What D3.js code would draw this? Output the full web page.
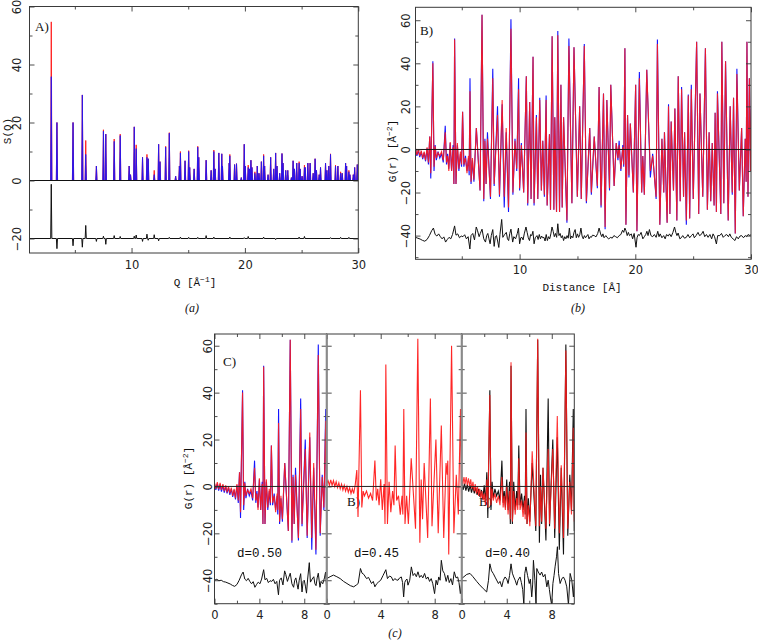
<!DOCTYPE html>
<html><head><meta charset="utf-8">
<script src="https://cdn.jsdelivr.net/npm/d3@7"></script>
<style>body{margin:0;background:#fff}</style>
</head><body>
<script>
// ================= DATA =================
// Panel A : S(Q) Bragg peaks (Q position, blue height, red height)
const aPeakQ = [2.92,3.42,4.84,5.66,5.96,6.90,7.52,7.73,8.47,9.00,
  9.79,9.91,10.24,10.41,10.97,11.36,11.47,12.00,12.39,12.51,
  13.01,13.33,13.89,14.22,14.31,14.72,15.04,15.13,15.52,15.84,
  15.93,16.58,17.02,17.26,17.37,17.70,17.96,18.02,18.61,18.67,
  19.09,19.26,19.68,19.94,20.03,20.29,20.41,20.53,20.62,20.88,
  21.09,21.24,21.45,21.65,21.74,22.04,22.27,22.54,22.71,22.83,
  23.07,23.27,23.36,23.60,23.78,24.10,24.25,24.37,24.57,24.78,
  24.87,25.04,25.25,25.31,25.55,25.75,26.02,26.19,26.31,26.55,
  26.67,27.11,27.23,27.40,27.55,27.99,28.20,28.44,28.58,28.88,
  28.97,29.17,29.26,29.56,29.68,29.91];
const aBlueS = [35.8,20,20,29.5,9,5,17,16,13.5,15.5,
  5,2,18.5,11,8,8,7.5,2,12.5,6.5,
  11.5,16.3,1.5,5,9.5,6.8,10,4.5,4,11.5,
  8,7,3.5,10,4,9.5,9.2,5,6,8.5,
  5.5,5.8,1,12.5,5,4.5,4,7,4.5,2.5,
  5,2.5,6.5,8.5,5,2,8,4,9.5,5,
  2.5,9.3,6,3.5,3.5,1,6.8,4,6,6,
  4,1.5,4.5,4.5,6,6,2.5,7.5,3.5,2,
  4.5,6,3.5,5,9,5,5,2.5,2.5,6,
  5,3,2,2,4.5,5.5];
const aRedS = [54.7,20,20,29.5,13.8,5,17.5,16,14.3,16,
  5,2,18.5,12.3,8,9,7.5,3.5,12.5,6.5,
  11.8,16.5,1.5,5,10,6.8,10.3,4.5,4,11.8,
  8,7,3.5,10.5,4,9.5,9.2,5,6,9,
  5.5,5.8,1,12.5,5,5.3,4,7,4.5,3,
  5,2.5,6.5,9,5,2,8,4,9.5,5,
  2.5,9.3,6,3.5,3.5,1,6.8,4,6,6.5,
  4,1.5,5.3,4.5,6,6,2.5,7.5,3.5,2,
  4.5,6,3.5,5,9.2,5.3,5,3,2.5,6,
  5,3.5,2,2,4.5,5.5];
// Panel A difference curve (deviation from the -20 offset line)
const aDiffQ = [2.92,3.42,4.84,5.66,5.96,6.90,7.52,7.73,8.47,9.00,
  10.24,10.41,10.97,11.36,11.47,12.00,12.39,13.33,14.31,15.04,
  15.84,16.58,17.26,18.67,19.94,20.29,21.65,22.71,24.78,25.25,
  27.55,28.44,29.17];
const aDiffS = [18.7,-3.5,-2.5,-3,4.5,-1,0.8,-2,1,0.7,
  0.8,1.2,-1,1.5,-0.6,1.3,-0.8,0.4,0.5,0.4,
  0.4,1,0.5,0.5,0.3,0.7,0.5,-0.4,0.5,0.7,
  0.3,0.4,0.4];
const aOffset = -20;

// Panel B / C : G(r) extrema (r, observed = blue/black, fit d=0.50 = red)
const gR = [0.00,0.12,0.25,0.37,0.50,0.62,0.75,0.87,1.00,1.12,
  1.25,1.37,1.50,1.62,1.75,1.87,2.00,2.12,2.23,2.32,
  2.50,2.60,2.70,2.80,2.95,3.10,3.25,3.40,3.57,3.68,
  3.78,3.88,4.00,4.12,4.25,4.32,4.38,4.50,4.62,4.75,
  4.88,4.98,5.07,5.18,5.32,5.45,5.58,5.64,5.71,5.80,
  5.92,6.05,6.26,6.58,6.75,6.90,7.00,7.10,7.22,7.48,
  7.68,7.80,8.09,8.26,8.49,8.67,8.84,9.04,9.25,9.42,
  9.60,9.75,9.91,10.00,10.15,10.35,10.58,10.70,10.87,10.99,
  11.16,11.25,11.45,11.57,11.74,11.88,12.00,12.14,12.29,12.38,
  12.58,12.67,12.81,12.96,13.04,13.19,13.30,13.45,13.57,13.68,
  13.80,14.09,14.26,14.52,14.70,14.99,15.19,15.33,15.59,15.77,
  16.06,16.20,16.45,16.72,16.87,17.04,17.25,17.39,17.54,17.77,
  17.88,18.17,18.35,18.50,18.60,18.75,18.92,19.00,19.10,19.19,
  19.33,19.45,19.57,19.83,20.03,20.14,20.35,20.55,20.65,20.78,
  20.99,21.30,21.50,21.80,21.91,22.12,22.30,22.46,22.52,22.75,
  22.87,22.99,23.10,23.30,23.42,23.59,23.71,23.88,24.00,24.17,
  24.26,24.41,24.58,24.70,24.84,25.01,25.30,25.48,25.59,25.83,
  26.06,26.23,26.38,26.52,26.65,26.81,26.90,27.01,27.10,27.39,
  27.48,27.65,27.80,28.03,28.20,28.38,28.49,28.64,28.78,28.99,
  29.19,29.33,29.50,29.58,29.65,29.74,29.86,29.95,30.03,30.20];
const gObs = [1.0,-1.5,1.2,-1.8,0.8,-2.2,0.5,-2.6,0.0,-3.0,
  -0.5,-3.6,-1.0,-4.5,-1.5,-5.5,0.5,-7.0,6.0,-13.5,
  41.0,-10.0,2.0,-5.0,-1.0,-4.0,-2.0,-6.0,11.0,-7.0,
  -2.0,-9.0,3.0,-10.0,2.0,-16.0,51.5,-16.0,2.0,-10.0,
  -2.0,-8.0,17.5,-8.0,-3.0,-10.0,-4.0,-12.0,33.0,-16.0,
  -5.0,-15.0,10.0,-19.0,62.5,-24.0,5.0,-16.0,8.0,-23.0,
  37.5,-17.0,20.0,-22.0,21.0,-27.0,8.0,-29.0,60.5,-21.0,
  5.0,-10.0,33.0,-19.0,3.0,-20.0,34.0,-26.0,22.0,-23.0,
  43,-26,16,-23,24,-19,4,-22,25,-26,
  7,-28,52.5,-28,15,-29,55,-29,30,-27,
  15,-34,51.5,-25,47.5,-22,20,-23,49,-25,
  10,-21,6,-18,29,-27,26,-37,23,-19,
  30,-17,3,-5,4,-10,2,-8,47,-35,
  16,-13,12,-20,30,-38,36,-20,-3,-21,
  37,-13,-2,-23,51,-35,5,-20,8,-34,
  21,-30,13,-19,19,-33,34,-24,29,-22,
  8,-35,25.5,-32,30,-23,50,-30,26,-22,
  47,-28,8,-24,3,-26,17,-29,27,-30,
  50,-25,41,-33,20,-21,24,-39,37.5,-19,
  10,-31,5,-15,50,-22,33,-10,19,-5];
const gFit = [1.5,-1.0,1.8,-1.2,1.5,-1.5,1.0,-2.0,0.5,-2.5,
  0.0,-3.0,-0.5,-4.0,-1.0,-5.0,1.0,-6.0,6.0,-11.0,
  40.0,-8.0,1.5,-4.0,-1.5,-3.0,-1.0,-5.0,8.0,-6.0,
  -3.0,-10.0,3.5,-10.0,1.0,-16.0,51.0,-16.0,3.0,-9.0,
  -1.0,-7.0,17.5,-7.0,-4.0,-11.0,-3.0,-10.0,27.0,-15.0,
  -4.0,-14.0,10.0,-19.0,62.5,-23.0,4.0,-16.0,5.0,-22.0,
  33.0,-16.0,16.0,-21.0,23.0,-22.0,10.0,-27.0,56.0,-20.0,
  4.0,-9.0,28.0,-18.0,2.0,-20.0,34.0,-25.0,22.0,-23.0,
  43,-25,15,-23,23,-19,4,-21,23,-26,
  7,-28,52.5,-28,15,-29,53,-29,30,-27,
  15,-33,48,-25,47.5,-22,20,-23,48,-24,
  10,-20,6,-17,29,-26,26,-36,23,-18,
  30,-17,3,-4,2,-9,1,-7,47,-35,
  16,-12,12,-20,30,-38,33,-20,-3,-21,
  37,-10,-3,-22,49,-35,5,-20,8,-34,
  20,-30,13,-19,19,-33,34,-24,28,-22,
  8,-33,25,-32,28,-23,50,-30,26,-22,
  47,-28,8,-24,3,-26,17,-29,26,-30,
  50,-25,41,-33,20,-20,24,-39,35,-19,
  10,-31,5,-15,50,-22,33,-10,19,-5];
// difference curve (plotted at -40 offset), also used for C d=0.50
const dR = [0.0,0.2,0.4,0.6,0.8,1.0,1.2,1.4,1.6,1.8,
  2.0,2.2,2.4,2.55,2.7,2.85,3.0,3.15,3.3,3.45,
  3.6,3.75,3.9,4.05,4.2,4.38,4.5,4.65,4.8,4.95,
  5.1,5.25,5.4,5.55,5.7,5.8,5.95,6.1,6.25,6.35,
  6.5,6.6,6.75,6.9,7.05,7.15,7.25,7.35,7.45,7.55,
  7.68,7.8,7.9,8.0,8.1,8.2,8.3,8.45,8.55,8.7,
  8.85,8.95,9.05,9.15,9.25,9.4,9.5,9.65,9.8,9.9,
  10.0,10.1,10.2,10.3,10.4,10.55,10.65,10.75,10.85,10.95,
  11.05,11.15,11.25,11.35,11.5,11.6,11.7,11.8,11.9,12.0,
  12.1,12.2,12.3,12.4,12.5,12.6,12.7,12.8,12.9,13.0,
  13.1,13.2,13.3,13.4,13.5,13.6,13.7,13.8,13.9,14.0,
  14.1,14.2,14.3,14.4,14.5,14.6,14.7,14.8,14.9,15.0,
  15.1,15.2,15.3,15.4,15.5,15.6,15.7,15.8,15.9,16.0,
  16.1,16.2,16.3,16.45,16.6,16.75,16.87,17.0,17.1,17.2,
  17.3,17.45,17.55,17.7,17.88,18.0,18.15,18.3,18.45,18.6,
  18.75,18.9,19.0,19.1,19.19,19.3,19.4,19.5,19.65,19.77,
  19.9,20.06,20.15,20.25,20.35,20.5,20.65,20.78,20.9,21.0,
  21.1,21.22,21.35,21.5,21.65,21.8,21.94,22.05,22.15,22.3,
  22.45,22.58,22.7,22.85,22.96,23.1,23.25,23.39,23.5,23.6,
  23.7,23.85,23.97,24.1,24.25,24.41,24.55,24.7,24.85,24.99,
  25.1,25.25,25.42,25.55,25.7,25.86,26.0,26.15,26.29,26.45,
  26.6,26.72,26.85,27.01,27.12,27.3,27.45,27.6,27.74,27.9,
  28.05,28.17,28.3,28.45,28.61,28.75,28.9,29.05,29.19,29.35,
  29.5,29.62,29.75,29.91,30.06,30.2];
const dG = [-40.0,-39.6,-40.2,-40.0,-40.6,-40.8,-41.2,-41.6,-42.2,-42.6,
  -41.8,-40.0,-37.7,-36.5,-39.5,-40.2,-39.2,-40.5,-41.5,-40.6,
  -43.0,-41.8,-40.8,-41.5,-39.5,-35.5,-39.8,-39.2,-41.0,-40.2,
  -40.5,-39.6,-41.5,-40.5,-46.2,-40.0,-39.0,-42.0,-36.0,-37.5,
  -40.5,-39.0,-37.0,-41.5,-43.0,-40.0,-39.0,-41.5,-43.8,-40.0,
  -37.2,-45.0,-40.5,-40.0,-42.5,-45.5,-39.5,-32.5,-40.8,-39.5,
  -38.5,-41.5,-42.3,-39.0,-37.0,-43.0,-40.5,-41.5,-39.0,-36.5,
  -43.8,-41.0,-40.8,-42.0,-39.2,-36.0,-38.5,-41.0,-42.3,-39.5,
  -40.0,-38.0,-43.8,-41.0,-40.0,-41.8,-39.5,-41.5,-40.2,-41.0,
  -40.8,-42.5,-39.5,-42.3,-40.5,-41.5,-39.2,-36.0,-38.0,-40.5,
  -39.0,-40.8,-34.5,-40.0,-39.0,-41.0,-40.0,-42.3,-40.5,-41.5,
  -40.0,-41.2,-36.5,-41.5,-40.2,-41.0,-38.5,-37.2,-41.0,-39.2,
  -40.8,-39.5,-36.5,-40.2,-41.5,-40.0,-41.0,-40.2,-39.5,-41.5,
  -40.5,-40.8,-39.8,-40.0,-40.6,-39.0,-36.5,-39.2,-40.5,-39.2,
  -41.0,-40.0,-40.8,-41.5,-40.8,-41.2,-40.0,-40.5,-41.0,-40.0,
  -39.5,-37.5,-38.5,-36.5,-37.7,-40.0,-38.5,-40.0,-39.2,-41.5,
  -39.0,-45.4,-41.0,-39.5,-40.0,-38.5,-41.5,-40.5,-39.5,-38.0,
  -40.0,-37.2,-40.0,-40.5,-39.5,-40.8,-38.0,-40.5,-39.2,-41.0,
  -40.0,-41.5,-39.5,-40.2,-39.2,-40.5,-38.5,-36.0,-38.5,-40.0,
  -38.8,-41.5,-41.0,-40.0,-41.2,-40.8,-39.5,-41.0,-40.0,-39.2,
  -41.0,-40.0,-38.5,-40.0,-39.5,-38.0,-40.5,-39.5,-40.8,-39.5,
  -41.5,-39.2,-40.5,-43.9,-40.0,-40.0,-39.0,-40.8,-40.0,-39.5,
  -40.5,-39.2,-40.8,-41.5,-42.3,-40.5,-41.5,-40.2,-40.0,-41.0,
  -40.0,-40.5,-39.5,-40.0,-39.2,-39.5];

// Panel C : fits for d = 0.45 and d = 0.40
const c45R = [0.00,0.10,0.20,0.30,0.40,0.50,0.60,0.70,0.80,0.90,
  1.00,1.10,1.20,1.30,1.40,1.50,1.60,1.70,1.80,1.90,
  2.00,2.12,2.23,2.32,2.50,2.60,2.70,2.80,2.95,3.10,
  3.25,3.40,3.57,3.68,3.78,3.88,4.00,4.12,4.25,4.32,
  4.38,4.50,4.62,4.75,4.88,4.98,5.07,5.18,5.32,5.45,
  5.58,5.64,5.71,5.80,5.92,6.05,6.26,6.58,6.75,6.90,
  7.00,7.10,7.22,7.48,7.68,7.80,8.09,8.26,8.49,8.67,
  8.84,8.92,8.97,9.04,9.25,9.42,9.60,9.75,9.91,10.00,
  10.15,10.35];
const c45G = [1.5,2.5,0.5,2.8,0.5,2.5,0.0,2.0,-0.5,1.5,
  -1.0,1.0,-1.5,0.5,-2.0,0.0,-2.5,-0.5,-3.0,-1.0,
  -3.0,1.0,7.0,-13.0,41.0,-9.0,-2.0,-4.0,-2.0,-5.0,
  -3.0,-6.0,11.0,-6.0,-1.0,-8.0,3.0,-10.0,1.0,-16.0,
  52.0,-16.0,2.0,-11.0,-2.0,-8.0,17.5,-6.0,-4.0,-12.0,
  -4.0,-12.0,33.0,-16.0,-4.0,-16.0,12.0,-18.0,63.0,-24.0,
  3.0,-14.0,10.0,-22.0,37.5,-17.0,20.0,-20.0,26.0,-22.0,
  10.0,5.0,11.0,-29.0,60.0,-20.0,5.0,-12.0,33.0,-18.0,
  2.0,-20.0];
const c40R = [0.0,0.1,0.2,0.3,0.4,0.5,0.6,0.7,0.8,0.9,
  1.0,1.1,1.2,1.3,1.4,1.5,1.6,1.7,1.8,1.9,
  2.0,2.12,2.23,2.32,2.50,2.60,2.70,2.80,2.95,3.10,
  3.25,3.40,3.57,3.68,3.78,3.88,4.00,4.12,4.25,4.32,
  4.38,4.50,4.62,4.75,4.88,4.98,5.07,5.18,5.32,5.45,
  5.58,5.64,5.71,5.80,5.92,6.05,6.26,6.58,6.75,6.90,
  7.00,7.10,7.22,7.48,7.68,7.80,8.09,8.26,8.49,8.67,
  8.84,9.04,9.25,9.42,9.60,9.75,9.91,10.00,10.15,10.35];
const c40G = [3.0,1.0,4.0,1.0,4.0,0.5,3.5,0.0,3.0,-1.0,
  2.0,-2.0,1.0,-3.0,0.0,-4.0,-1.0,-5.0,-2.0,-6.0,
  -3.0,-8.0,3.0,-9.0,39.0,-8.0,-1.0,-6.0,-3.0,-7.0,
  -4.0,-8.0,4.0,-9.0,-4.0,-10.0,0.0,-12.0,-2.0,-14.0,
  53.0,-15.0,-2.0,-12.0,-5.0,-10.0,12.0,-10.0,-6.0,-13.0,
  -6.0,-14.0,23.0,-16.0,-8.0,-17.0,15.0,-17.0,63.0,-17.0,
  0.0,-15.0,8.0,-18.0,16.0,-16.0,16.0,-18.0,30.0,-20.0,
  9.0,-22.0,58.0,-18.0,2.0,-12.0,25.0,-15.0,0.0,-16.0];
// Panel C difference curves (at -40 offset)
const e45R = [0.0,0.25,0.5,0.75,1.0,1.25,1.5,1.75,2.0,2.2,
  2.33,2.5,2.62,2.75,2.95,3.1,3.32,3.45,3.57,3.7,
  3.85,4.0,4.18,4.38,4.5,4.65,4.79,4.92,5.04,5.16,
  5.28,5.4,5.53,5.62,5.7,5.78,5.85,5.95,6.02,6.15,
  6.27,6.4,6.52,6.64,6.76,6.88,7.0,7.12,7.25,7.38,
  7.5,7.62,7.74,7.86,7.99,8.1,8.2,8.3,8.4,8.49,
  8.6,8.72,8.85,8.97,9.08,9.2,9.32,9.45,9.58,9.7,
  9.8,9.9,10.0];
const e45G = [-39.3,-38.5,-37.8,-38.5,-39.3,-40.5,-41.4,-42.3,-42.8,-42.0,
  -41.4,-35.0,-37.0,-37.5,-39.3,-38.8,-41.4,-40.5,-42.8,-41.5,
  -40.7,-40.0,-37.9,-35.5,-39.3,-38.2,-38.6,-40.2,-39.3,-39.8,
  -40.0,-39.0,-38.6,-41.0,-47.1,-41.0,-40.0,-39.5,-42.1,-40.0,
  -34.3,-38.0,-37.1,-38.5,-36.4,-38.8,-37.9,-39.0,-37.1,-39.5,
  -38.6,-40.5,-39.3,-41.5,-45.7,-40.0,-42.0,-38.6,-40.0,-31.5,
  -36.0,-37.1,-40.5,-37.9,-41.0,-39.3,-42.0,-36.4,-39.0,-38.6,
  -41.0,-45.7,-41.0];
const e40R = [0.0,0.2,0.45,0.74,1.0,1.33,1.6,1.92,2.22,2.38,
  2.5,2.65,2.8,3.0,3.26,3.4,3.56,3.7,3.85,4.0,
  4.12,4.25,4.38,4.5,4.62,4.75,4.89,5.0,5.18,5.3,
  5.42,5.52,5.6,5.71,5.85,6.0,6.1,6.22,6.3,6.37,
  6.5,6.6,6.67,6.8,6.96,7.1,7.25,7.4,7.56,7.68,
  7.79,7.9,7.99,8.1,8.2,8.3,8.42,8.5,8.6,8.74,
  8.88,9.03,9.18,9.33,9.48,9.63,9.78,9.92,10.0];
const e40G = [-39.3,-38.5,-37.5,-37.1,-38.5,-40.5,-42.0,-43.6,-45.0,-40.0,
  -33.0,-36.0,-37.1,-39.0,-41.4,-40.5,-42.8,-40.0,-38.6,-39.5,
  -41.4,-38.0,-33.0,-37.0,-38.6,-40.0,-42.1,-40.0,-38.6,-41.0,
  -44.0,-50.5,-37.1,-34.3,-38.0,-41.4,-39.5,-47.1,-42.0,-31.5,
  -40.0,-50.5,-35.0,-36.5,-37.8,-36.5,-38.6,-37.5,-42.8,-40.0,
  -44.0,-48.0,-50.5,-41.4,-38.0,-34.0,-30.0,-25.7,-37.1,-41.4,
  -39.5,-38.6,-40.0,-42.8,-50.5,-37.1,-40.0,-47.1,-41.0];

// tick values / labels
const aXTicks = [10,20,30], aXMinor = [5,15,25];
const aYTicks = [-20,0,20,40,60], aYMinor = [-10,10,30,50];
const bXTicks = [10,20,30], bXMinor = [5,15,25];
const gYTicks = [-40,-20,0,20,40,60], gYMinor = [-50,-30,-10,10,30,50];
const cXTicks = [0,4,8], cXMinor = [2,6];
const cLabels = ["d=0.50","d=0.45","d=0.40"];

// ================= CHECK =================
function same(name, ...arrs){ const n=arrs[0].length; arrs.forEach(a=>{ if(a.length!==n) throw new Error(name+' length mismatch '+a.length+' vs '+n); }); }
same('A',aPeakQ,aBlueS,aRedS); same('Ad',aDiffQ,aDiffS); same('G',gR,gObs,gFit);
same('D',dR,dG); same('c45',c45R,c45G); same('c40',c40R,c40G); same('e45',e45R,e45G); same('e40',e40R,e40G);

// ================= DRAW =================
const FR = '#3a3a3a';
const TICKF = '"DejaVu Sans", sans-serif';
const MONO = '"Liberation Mono", "DejaVu Sans Mono", monospace';
const SERIF = '"Liberation Serif", serif';
const BLUE = '#1414ff', RED = '#ff1a1a';

const svg = d3.select('body').append('svg').attr('width',758).attr('height',642);
svg.append('rect').attr('width',758).attr('height',642).attr('fill','#fff');
let clipN = 0;
function clip(x, y){
  const id = 'clip'+(clipN++);
  const [xl,xr]=x.range(), [yb,yt]=y.range();
  svg.append('clipPath').attr('id',id).append('rect').attr('x',xl).attr('y',yt).attr('width',xr-xl).attr('height',yb-yt);
  return svg.append('g').attr('clip-path',`url(#${id})`);
}
function axes(x, y, o){
  const g = svg.append('g');
  const [xl,xr]=x.range(), [yb,yt]=y.range();
  const put = (axis, tx, ty, vals, size, pad, lab) => {
    axis.tickValues(vals).tickSizeInner(-size).tickSizeOuter(0).tickPadding(pad);
    if(!lab) axis.tickFormat(()=> '');
    const s = g.append('g').attr('transform',`translate(${tx},${ty})`).call(axis);
    s.select('.domain').remove();
    s.selectAll('line').attr('stroke',FR).attr('stroke-width',0.9);
    s.selectAll('text').attr('fill','#222').style('font-family',TICKF).style('font-size','11.5px');
    return s;
  };
  put(d3.axisBottom(x),0,yb,o.xMaj,5,o.xPad,true);
  put(d3.axisBottom(x),0,yb,o.xMin,3,0,false);
  put(d3.axisTop(x),0,yt,o.xMaj,5,0,false);
  put(d3.axisTop(x),0,yt,o.xMin,3,0,false);
  const L = put(d3.axisLeft(y),xl,0,o.yMaj,5,0,o.yLab);
  L.selectAll('text').attr('x',0).attr('dy','0.35em').attr('text-anchor','middle')
    .attr('transform',`translate(${-o.yOff},0) rotate(-90)`);
  put(d3.axisLeft(y),xl,0,o.yMin,3,0,false);
  put(d3.axisRight(y),xr,0,o.yMaj,5,0,false);
  put(d3.axisRight(y),xr,0,o.yMin,3,0,false);
  g.append('rect').attr('x',xl).attr('y',yt).attr('width',xr-xl).attr('height',yb-yt)
    .attr('fill','none').attr('stroke',FR).attr('stroke-width',1);
}
function text(x, y, str, font, size, opt={}){
  const t = svg.append('text').attr('x',x).attr('y',y).attr('fill','#111')
    .style('font-family',font).style('font-size',size+'px')
    .attr('text-anchor',opt.anchor||'start').text(str);
  if(opt.italic) t.style('font-style','italic');
  if(opt.rot){ t.attr('x',0).attr('y',0).attr('dy','0.35em').attr('transform',`translate(${x},${y}) rotate(-90)`); }
  return t;
}
function unitText(x, y, pre, sup, rot){
  const t = text(x, y, '', MONO, 11, {anchor:'middle', rot});
  t.append('tspan').text(pre + ' [Å');
  if(sup){
    t.append('tspan').attr('dy',-4).style('font-size','8px').text(sup);
    t.append('tspan').attr('dy',4).text(']');
  } else t.append('tspan').text(']');
  return t;
}
const lineOf = (x,y) => d3.line().x(d=>x(d[0])).y(d=>y(d[1]));

// ---------- Panel A ----------
{
  const x = d3.scaleLinear([1,30],[29.5,358.3]);
  const y = d3.scaleLinear([-25,60],[253,6.5]);
  const g = clip(x,y);
  text(35, 31, 'A)', SERIF, 13);
  const hw = 0.055;
  const spikes = (vals) => aPeakQ.map((q,i)=>`M${x(q-hw)},${y(0)}L${x(q)},${y(vals[i])}L${x(q+hw)},${y(0)}Z`).join('');
  g.append('path').attr('d',spikes(aRedS)).attr('fill',RED).attr('stroke',RED).attr('stroke-width',0.9).attr('stroke-linejoin','bevel');
  g.append('path').attr('d',spikes(aBlueS)).attr('fill',BLUE).attr('stroke',BLUE).attr('stroke-width',0.9).attr('stroke-linejoin','bevel').attr('opacity',0.92);
  g.append('line').attr('x1',x(1)).attr('x2',x(30)).attr('y1',y(0)).attr('y2',y(0)).attr('stroke','#111').attr('stroke-width',1);
  const pts = [[1,aOffset]];
  aDiffQ.forEach((q,i)=>{ pts.push([q-0.05,aOffset],[q,aOffset+aDiffS[i]],[q+0.05,aOffset]); });
  pts.push([30,aOffset]);
  g.append('path').attr('d',lineOf(x,y)(pts)).attr('fill','none').attr('stroke','#111').attr('stroke-width',1);
  axes(x,y,{xMaj:aXTicks,xMin:aXMinor,yMaj:aYTicks,yMin:aYMinor,xPad:8,yOff:12.5,yLab:true});
  text(7, 131, 'S(Q)', MONO, 11, {anchor:'middle', rot:true});
  unitText(195, 286, 'Q', '−1', false);
  text(192, 312, '(a)', SERIF, 12, {anchor:'middle', italic:true});
}

// ---------- Panel B ----------
{
  const x = d3.scaleLinear([1,30],[415.5,751]);
  const y = d3.scaleLinear([-51,66],[259.3,7.3]);
  const g = clip(x,y);
  text(420, 35, 'B)', SERIF, 13);
  g.append('path').attr('d',lineOf(x,y)(d3.zip(gR,gObs))).attr('fill','none').attr('stroke',BLUE).attr('stroke-width',1.1);
  g.append('path').attr('d',lineOf(x,y)(d3.zip(gR,gFit))).attr('fill','none').attr('stroke',RED).attr('stroke-width',1.1).attr('opacity',0.9);
  g.append('line').attr('x1',x(1)).attr('x2',x(30)).attr('y1',y(0)).attr('y2',y(0)).attr('stroke','#111').attr('stroke-width',1);
  g.append('path').attr('d',lineOf(x,y)(d3.zip(dR,dG))).attr('fill','none').attr('stroke','#111').attr('stroke-width',1);
  axes(x,y,{xMaj:bXTicks,xMin:bXMinor,yMaj:gYTicks,yMin:gYMinor,xPad:7,yOff:9.5,yLab:true});
  unitText(392, 151, 'G(r)', '−2', true);
  unitText(582, 291, 'Distance', '', false);
  text(578, 312, '(b)', SERIF, 12, {anchor:'middle', italic:true});
}

// ---------- Panel C ----------
{
  const y = d3.scaleLinear([-50,65],[603.7,334]);
  const xs = [d3.scaleLinear([0,10],[214.5,326.7]), d3.scaleLinear([0,10],[326.7,461.7]), d3.scaleLinear([0,10],[461.7,574.3])];
  const labX = [237, 354, 485];
  text(223, 366, 'C)', SERIF, 13);
  text(347, 506, 'B)', SERIF, 13);
  text(479, 506, 'B)', SERIF, 13);
  const series = [
    [{r:gR,v:gObs,c:BLUE},{r:gR,v:gFit,c:RED,o:0.9}],
    [{r:c45R,v:c45G,c:RED,o:0.95}],
    [{r:gR,v:gObs,c:'#111'},{r:c40R,v:c40G,c:RED,o:0.88}]
  ];
  const diffs = [[dR,dG],[e45R,e45G],[e40R,e40G]];
  xs.forEach((x,i)=>{
    const g = clip(x,y);
    series[i].forEach(s=>{
      g.append('path').attr('d',lineOf(x,y)(d3.zip(s.r,s.v))).attr('fill','none').attr('stroke',s.c).attr('stroke-width',1.1).attr('opacity',s.o||1);
    });
    g.append('line').attr('x1',x(0)).attr('x2',x(10)).attr('y1',y(0)).attr('y2',y(0)).attr('stroke','#222').attr('stroke-width',1);
    g.append('path').attr('d',lineOf(x,y)(d3.zip(diffs[i][0],diffs[i][1]))).attr('fill','none').attr('stroke','#111').attr('stroke-width',1);
    axes(x,y,{xMaj:cXTicks,xMin:cXMinor,yMaj:gYTicks,yMin:gYMinor,xPad:7.5,yOff:6.5,yLab:i===0});
    text(labX[i], 557, cLabels[i], MONO, 12.5);
  });
  [xs[1].range()[0], xs[2].range()[0]].forEach(px=>{
    svg.append('line').attr('x1',px).attr('x2',px).attr('y1',334).attr('y2',603.7).attr('stroke','#8a8a8a').attr('stroke-width',2);
  });
  unitText(188, 478, 'G(r)', '−2', true);
  text(395, 637, '(c)', SERIF, 12, {anchor:'middle', italic:true});
}
</script>
</body></html>
